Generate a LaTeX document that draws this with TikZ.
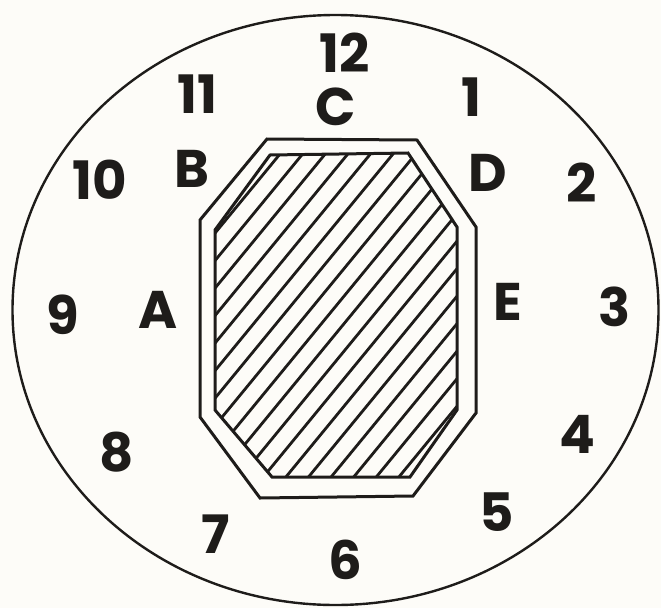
\documentclass[tikz,border=0pt]{standalone}
\usepackage{fontspec}
\newfontfamily\labfont{Poppins}
\definecolor{paper}{HTML}{FDFCF8}
\definecolor{ink}{HTML}{1E1C1A}
\tikzset{
  lab/.style={font=\labfont\bfseries\fontsize{53}{53}\selectfont, text=ink, inner sep=0pt, anchor=center},
  rim/.style={draw=ink, line width=2.4pt},
  oct/.style={draw=ink, line width=3pt, line join=miter},
  hatch/.style={draw=ink, line width=2.8pt}
}
\begin{document}
\begin{tikzpicture}[x=1pt,y=-1pt]
\useasboundingbox (0,0) rectangle (661,608);
\fill[paper] (0,0) rectangle (661,608);
% outer rim
\draw[rim] (335.5,310) ellipse [x radius=323, y radius=295];
% outer octagon
\draw[oct] (267,139) -- (417,140) -- (476,227) -- (476,413) -- (413,496) -- (260,498) -- (200,417) -- (200,220) -- cycle;
% inner octagon with hatching
\begin{scope}
  \clip (270,155) -- (408,153) -- (457,227) -- (457,410) -- (410,477) -- (272,477) -- (215,410) -- (215,230) -- cycle;
  \foreach \k in {-3,...,20} {
    \draw[hatch] ({280+22.6*\k+230},{154-280}) -- ({280+22.6*\k-345},{154+420});
  }
\end{scope}
\draw[oct] (270,155) -- (408,153) -- (457,227) -- (457,410) -- (410,477) -- (272,477) -- (215,410) -- (215,230) -- cycle;
% hour numbers
\node[lab] (h12) at (345,53) {12};
\node[lab] (h1) at (471,97) {1};
\node[lab] (h2) at (582,183) {2};
\node[lab] (h3) at (615,307) {3};
\node[lab] (h4) at (577,434) {4};
\node[lab] (h5) at (497,512) {5};
\node[lab] (h6) at (345,560) {6};
\node[lab] (h7) at (216,534) {7};
\node[lab] (h8) at (117,452) {8};
\node[lab] (h9) at (63,315) {9};
\node[lab] (h10) at (100,180) {10};
\node[lab] (h11) at (197,94) {11};
% letters
\node[lab] (lA) at (158,310) {A};
\node[lab] (lB) at (192,169) {B};
\node[lab] (lC) at (336,107) {C};
\node[lab] (lD) at (488,173) {D};
\node[lab] (lE) at (508,302) {E};
\end{tikzpicture}
\end{document}
